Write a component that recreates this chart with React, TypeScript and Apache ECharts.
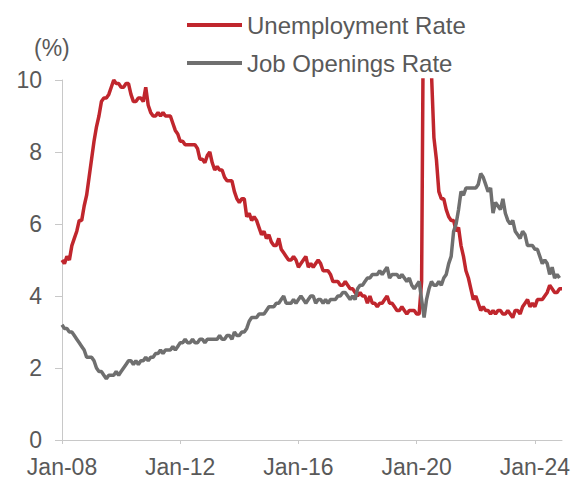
import React, { useEffect, useRef } from "react";
import * as echarts from "echarts";

const unemploymentRate = [
  5.0, 4.9, 5.1, 5.0, 5.4, 5.6, 5.8, 6.1, 6.1, 6.5, 6.8, 7.3,
  7.8, 8.3, 8.7, 9.0, 9.4, 9.5, 9.5, 9.6, 9.8, 10.0, 9.9, 9.9,
  9.8, 9.8, 9.9, 9.9, 9.6, 9.4, 9.4, 9.5, 9.5, 9.4, 9.8, 9.3,
  9.1, 9.0, 9.0, 9.1, 9.0, 9.1, 9.0, 9.0, 9.0, 8.8, 8.6, 8.5,
  8.3, 8.3, 8.2, 8.2, 8.2, 8.2, 8.2, 8.1, 7.8, 7.8, 7.7, 7.9,
  8.0, 7.7, 7.5, 7.6, 7.5, 7.5, 7.3, 7.2, 7.2, 7.2, 6.9, 6.7,
  6.6, 6.7, 6.7, 6.2, 6.3, 6.1, 6.2, 6.1, 5.9, 5.7, 5.8, 5.6,
  5.7, 5.5, 5.4, 5.4, 5.6, 5.3, 5.2, 5.1, 5.0, 5.0, 5.1, 5.0,
  4.8, 4.9, 5.0, 5.1, 4.8, 4.9, 4.8, 4.9, 5.0, 4.9, 4.7, 4.7,
  4.7, 4.6, 4.4, 4.4, 4.4, 4.3, 4.3, 4.4, 4.3, 4.2, 4.2, 4.1,
  4.0, 4.1, 4.0, 4.0, 3.8, 4.0, 3.8, 3.8, 3.7, 3.8, 3.8, 3.9,
  4.0, 3.8, 3.8, 3.7, 3.6, 3.6, 3.7, 3.6, 3.5, 3.6, 3.6, 3.6,
  3.5, 3.5, 4.4, 14.8, 13.2, 11.0, 10.2, 8.4, 7.8, 6.9, 6.7, 6.7,
  6.4, 6.2, 6.1, 6.1, 5.8, 5.9, 5.4, 5.1, 4.7, 4.5, 4.2, 3.9,
  4.0, 3.8, 3.6, 3.7, 3.6, 3.6, 3.5, 3.6, 3.5, 3.6, 3.6, 3.5,
  3.5, 3.6, 3.5, 3.4, 3.6, 3.6, 3.5, 3.7, 3.8, 3.9, 3.7, 3.8,
  3.7, 3.9, 3.9, 3.9, 4.0, 4.1, 4.3, 4.2, 4.1, 4.1, 4.2, 4.2,
];

const jobOpeningsRate = [
  3.2, 3.1, 3.1, 3.0, 3.0, 2.9, 2.8, 2.7, 2.6, 2.5, 2.3, 2.3,
  2.3, 2.2, 2.0, 1.9, 1.9, 1.8, 1.7, 1.8, 1.8, 1.8, 1.9, 1.8,
  1.9, 2.0, 2.1, 2.2, 2.2, 2.1, 2.2, 2.1, 2.2, 2.2, 2.3, 2.2,
  2.3, 2.3, 2.4, 2.4, 2.5, 2.4, 2.5, 2.5, 2.5, 2.6, 2.5, 2.6,
  2.7, 2.7, 2.8, 2.7, 2.7, 2.8, 2.7, 2.7, 2.8, 2.8, 2.7, 2.8,
  2.8, 2.8, 2.8, 2.8, 2.9, 2.8, 2.8, 2.9, 2.9, 2.8, 3.0, 2.9,
  2.9, 3.0, 3.0, 3.1, 3.3, 3.4, 3.4, 3.4, 3.5, 3.5, 3.5, 3.6,
  3.7, 3.7, 3.7, 3.8, 3.8, 3.9, 4.0, 3.8, 3.8, 3.8, 3.9, 3.8,
  3.9, 4.0, 3.9, 3.8, 3.9, 4.0, 4.0, 3.8, 3.9, 3.9, 3.8, 3.9,
  3.8, 3.9, 3.9, 3.9, 4.0, 4.0, 4.1, 4.1, 4.0, 3.9, 4.0, 3.9,
  4.2, 4.3, 4.3, 4.4, 4.5, 4.5, 4.6, 4.6, 4.6, 4.7, 4.6, 4.7,
  4.8, 4.5, 4.6, 4.6, 4.6, 4.5, 4.6, 4.5, 4.4, 4.5, 4.3, 4.2,
  4.3, 4.4, 3.9, 3.4, 3.9, 4.2, 4.4, 4.3, 4.3, 4.4, 4.3, 4.5,
  4.6, 4.9, 5.1, 5.8, 6.0, 6.4, 6.9, 6.8, 7.0, 7.0, 7.0, 7.0,
  7.0, 7.1, 7.4, 7.3, 7.1, 6.9, 7.0, 6.3, 6.6, 6.5, 6.4, 6.7,
  6.3, 6.1, 6.0, 6.1, 5.8, 5.7, 5.6, 5.8, 5.7, 5.4, 5.4, 5.4,
  5.3, 5.3, 5.1, 4.9, 5.0, 4.9, 4.6, 4.8, 4.5, 4.6, 4.5,
];

const monthNames = ["Jan", "Feb", "Mar", "Apr", "May", "Jun", "Jul", "Aug", "Sep", "Oct", "Nov", "Dec"];
const years = ["08", "09", "10", "11", "12", "13", "14", "15", "16", "17", "18", "19", "20", "21", "22", "23", "24"];
const categories: string[] = [];
years.forEach((y) => monthNames.forEach((m) => categories.push(`${m}-${y}`)));

const tickLabels = ["Jan-08", "Jan-12", "Jan-16", "Jan-20", "Jan-24"];
const seriesNames = ["Unemployment Rate", "Job Openings Rate"];

const FONT = "'Liberation Sans', Arial, sans-serif";
const TEXT = "#595959";

export default function App() {
  const ref = useRef<HTMLDivElement>(null);
  useEffect(() => {
    document.body.style.margin = "0";
    if (!ref.current) return;
    const chart = echarts.init(ref.current, null, { renderer: "svg" });
    const showTick = (_i: number, v: string) => tickLabels.includes(v);
    chart.setOption({
      animation: false,
      backgroundColor: "#ffffff",
      textStyle: { fontFamily: FONT },
      grid: { left: 62, right: 17, top: 80, bottom: 40, containLabel: false },
      legend: {
        orient: "vertical",
        left: 182,
        top: 8,
        itemWidth: 55,
        itemHeight: 4,
        itemGap: 14,
        icon: "rect",
        data: seriesNames,
        textStyle: { fontSize: 24, color: TEXT, fontFamily: FONT, lineHeight: 24 },
      },
      graphic: [
        {
          type: "text",
          left: 34,
          top: 36,
          style: { text: "(%)", fontSize: 23, fill: TEXT, fontFamily: FONT },
        },
      ],
      xAxis: {
        type: "category",
        data: categories,
        boundaryGap: false,
        axisLine: { show: true, lineStyle: { color: "#c8c8c8", width: 1 } },
        axisTick: { show: true, interval: showTick, length: 4, lineStyle: { color: "#c8c8c8" } },
        axisLabel: {
          interval: showTick,
          fontSize: 23,
          color: TEXT,
          fontFamily: FONT,
          margin: 15,
        },
        splitLine: { show: false },
      },
      yAxis: {
        type: "value",
        min: 0,
        max: 10,
        interval: 2,
        axisLine: { show: true, lineStyle: { color: "#c8c8c8", width: 1 } },
        axisTick: { show: true, length: 7, lineStyle: { color: "#c8c8c8" } },
        axisLabel: { fontSize: 23, color: TEXT, fontFamily: FONT, margin: 20 },
        splitLine: { show: false },
      },
      series: [
        {
          name: seriesNames[0],
          type: "line",
          data: unemploymentRate,
          showSymbol: false,
          symbol: "none",
          clip: true,
          color: "#c0262d",
          lineStyle: { width: 3.5, color: "#c0262d" },
        },
        {
          name: seriesNames[1],
          type: "line",
          data: jobOpeningsRate,
          showSymbol: false,
          symbol: "none",
          clip: true,
          color: "#6f6f6f",
          lineStyle: { width: 3.5, color: "#6f6f6f" },
        },
      ],
    });
    return () => chart.dispose();
  }, []);
  return <div ref={ref} style={{ width: 579, height: 480 }} />;
}
